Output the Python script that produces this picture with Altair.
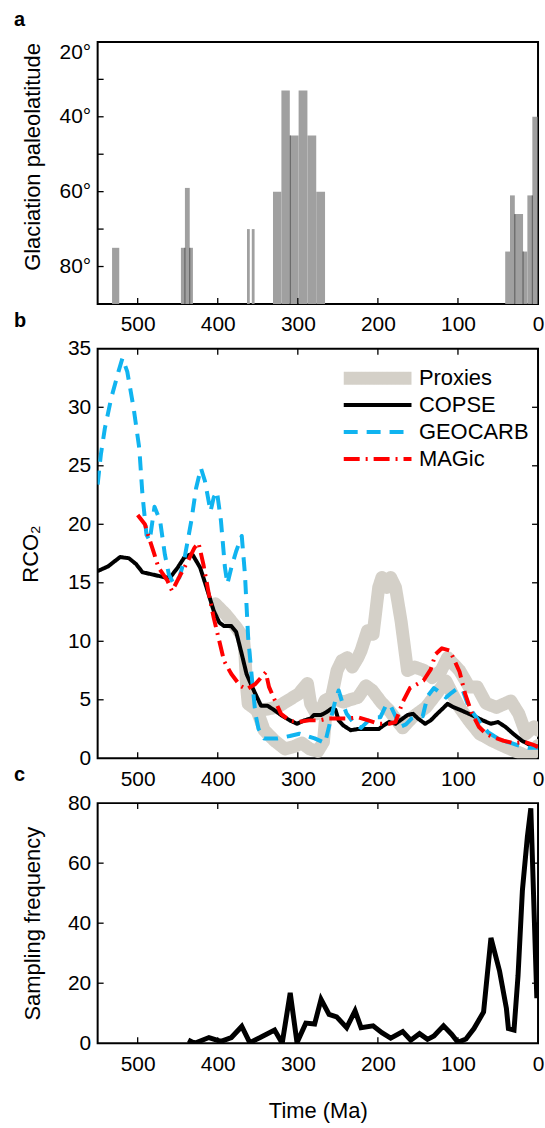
import altair as alt
import pandas as pd

FONT = "Liberation Sans"

# ---------------- Panel a: glaciation paleolatitude ----------------
glac_start = [532, 446, 441, 435, 363.5, 357.5, 331, 320.5, 310, 299, 288, 277, 41, 35, 29, 18.7, 13.3, 7.1]
glac_end = [523, 441, 435, 431, 360, 354, 320.5, 310, 299, 288, 277, 266, 35, 29, 18.7, 13.3, 7.1, 0.6]
glac_lat = [75, 75, 59, 75, 70, 70, 60, 33, 45, 33, 45, 60, 76, 61, 66, 76, 61, 40]
edge_time = [441, 435, 309.5, 29, 18.7, 7.1]
edge_lat = [75, 75, 45, 66, 76, 61]
lat_ticks = [20, 40, 60, 80]
lat_minor = [30, 40, 50, 60, 70, 80]

# ---------------- Panel b: RCO2 ----------------
copse_t = [550, 537, 522, 511, 502, 494, 481, 465, 459, 450, 442, 435, 431, 422, 414, 405, 398, 392, 383, 377,
           370, 364, 355, 346, 338, 329, 321, 310, 301, 292, 284, 280, 271, 264, 258, 253, 249, 243, 234, 225,
           212, 199, 193, 186, 178, 169, 163, 156, 150, 141, 134, 126, 119, 113, 106, 96, 83, 69, 59, 50,
           41, 31, 20, 9, 0]
copse_v = [16.0, 16.4, 17.2, 17.1, 16.6, 15.9, 15.7, 15.45, 15.5, 16.3, 17.15, 17.4, 17.35, 16.3, 14.6, 12.6, 11.6, 11.3, 11.3, 10.8,
           8.9, 7.2, 5.8, 4.5, 4.5, 4.1, 3.7, 3.24, 2.95, 3.24, 3.4, 3.7, 3.7, 3.95, 4.25, 4.15, 3.24, 2.8, 2.4, 2.5,
           2.5, 2.5, 2.8, 3.1, 2.95, 3.4, 3.7, 3.8, 3.4, 2.95, 3.24, 3.8, 4.25, 4.66, 4.38, 4.1, 3.7, 3.24, 2.95, 3.1,
           2.7, 2.1, 1.5, 1.1, 1.0]

geocarb_t = [550, 546, 541, 533, 524, 519, 513, 505, 498, 494, 489, 485, 479, 472, 466, 461, 455, 448, 442, 433,
             427, 421, 416, 409, 405, 401, 396, 391, 388, 383, 377, 370, 366, 362, 357, 353, 349, 342, 325, 310,
             298, 288, 279, 266, 260, 253, 249, 245, 239, 230, 221, 212, 204, 197, 190, 185, 178, 172, 165, 158,
             150, 144, 138, 130, 122, 115, 108, 100, 94, 86, 78, 70, 62, 55, 45, 33, 25, 12, 0]
geocarb_v = [23.4, 25.95, 28.2, 30.8, 33.05, 34.2, 33.05, 29.9, 26.5, 22.5, 19.1, 18.6, 21.5, 20.3, 17.4, 15.7, 14.9, 15.45, 16.9, 20.3,
             23.1, 24.8, 23.7, 21.1, 22.3, 22.8, 20.3, 16.3, 14.9, 16.3, 17.7, 19.0, 15.7, 10.3, 6.6, 3.8, 2.5, 1.7, 1.7, 1.9,
             2.1, 1.9, 1.7, 1.3, 3.0, 5.0, 5.8, 4.9, 3.8, 3.0, 2.6, 3.2, 3.5, 3.5, 4.5, 4.6, 3.6, 2.7, 2.9, 3.4,
             3.6, 3.6, 5.3, 6.0, 5.6, 5.2, 5.6, 6.0, 5.8, 4.3, 3.6, 2.8, 2.2, 1.9, 1.5, 1.3, 1.1, 0.9, 0.9]

magic_t = [500, 491, 487, 479, 474, 463, 457, 448, 437, 429, 424, 418, 411, 405, 398, 392, 383, 372, 364, 353,
           340, 336, 329, 321, 310, 299, 286, 273, 262, 251, 238, 225, 212, 199, 186, 178, 169, 160, 152, 143,
           134, 128, 120, 110, 106, 98, 91, 83, 74, 65, 56, 43, 31, 17, 4, 0]
magic_v = [20.8, 20.0, 19.1, 17.4, 16.3, 15.2, 14.3, 15.5, 16.9, 18.0, 18.4, 16.6, 14.0, 12.0, 10.0, 8.3, 7.2, 6.2, 5.9, 6.35,
           7.35, 6.1, 5.0, 3.8, 3.2, 3.1, 3.24, 3.24, 3.4, 3.4, 3.4, 3.5, 3.24, 2.95, 2.95, 3.1, 4.8, 6.0, 6.3, 6.65,
           7.6, 8.9, 9.4, 9.2, 8.6, 7.4, 5.5, 3.9, 2.7, 2.1, 1.8, 1.5, 1.3, 1.4, 1.1, 0.95]

proxy_up_t = [403, 390, 377, 368, 366, 364, 362, 351, 338, 325, 312, 299, 288, 284, 277, 271, 266, 258, 251, 245,
              238, 232, 225, 221, 213, 206, 199, 195, 189, 184, 178, 171, 163, 154, 142, 132, 121, 113, 98, 86,
              76, 65, 52, 34, 24, 15, 5, 0]
proxy_up_v = [13.2, 12.3, 11.2, 10.3, 8.9, 6.1, 4.66, 4.1, 4.2, 4.4, 4.95, 5.5, 6.4, 4.66, 3.8, 4.1, 4.95, 5.2, 7.5, 8.35,
              8.6, 7.8, 8.6, 9.2, 10.9, 10.6, 14.6, 15.45, 14.6, 15.45, 14.6, 11.7, 7.5, 7.8, 7.5, 6.9, 7.5, 8.6, 7.5, 6.1,
              6.1, 4.7, 4.35, 4.9, 3.8, 2.1, 2.7, 2.4]
proxy_lo_t = [351, 342, 329, 316, 305, 295, 285, 275, 268, 264, 258, 250, 243, 235, 225, 215, 207, 196, 186, 176,
              169, 157, 140, 127, 115, 107, 98, 86, 73, 57, 40, 24, 11, 3, 0]
proxy_lo_v = [4.1, 2.4, 1.5, 0.8, 1.0, 1.3, 0.8, 0.6, 1.4, 4.5, 5.3, 5.0, 4.8, 5.0, 5.2, 6.2, 5.8, 4.8, 4.1, 3.2,
              2.6, 3.5, 4.35, 5.5, 6.6, 5.5, 4.35, 3.2, 2.1, 1.5, 0.95, 0.5, 0.1, 0.7, 1.1]

series_names = ["Proxies", "COPSE", "GEOCARB", "MAGic"]
series_colors = ["#d4d0c8", "#000000", "#10b4f0", "#ff0000"]
series_widths = [13, 4, 4, 4]
series_dash = [[1, 0], [1, 0], [14, 9], [16, 6, 2, 6]]

# ---------------- Panel c: sampling frequency ----------------
samp_t = [437, 429, 411, 396, 383, 370, 360, 347, 329, 319.5, 309.5, 301, 290, 279, 271, 261, 251.5, 239, 228.5, 221,
          206, 195, 184, 169, 159, 148, 138, 130, 118, 108, 100, 90, 80, 68, 58.8, 48, 39.5, 37, 30, 25,
          19.5, 13.3, 9, 1.5]
samp_v = [1.1, 0, 1.9, 0.6, 1.9, 5.6, 0.2, 1.9, 4.4, 0, 16.8, 0.2, 6.7, 6.4, 14.6, 9.6, 8.8, 5.2, 10.8, 5.2,
          5.8, 3.5, 1.7, 3.9, 1.0, 3.2, 1.3, 2.4, 5.8, 3.0, 0.3, 1.4, 4.9, 10.4, 35.1, 24, 11.6, 4.9, 4.4, 22.4,
          51, 68.8, 78.3, 15]

time_ticks = [500, 400, 300, 200, 100, 0]
rco2_ticks = [0, 5, 10, 15, 20, 25, 30, 35]
samp_ticks = [0, 20, 40, 60, 80]

W = 442
HA, HB, HC = 263, 411, 241
TICK = 6

xscale = alt.Scale(domain=[0, 550], reverse=True, nice=False, zero=False)


def make_xaxis(title=None):
    kw = dict(values=time_ticks, format="d", ticks=False, domain=False, grid=False,
              labelFontSize=21, labelPadding=10, labelFlush=False, labelOverlap=False,
              labelFont=FONT, labelColor="black")
    if title:
        return alt.Axis(title=title, titleFontSize=22, titlePadding=27, titleFont=FONT,
                        titleFontWeight="normal", titleColor="black", **kw)
    return alt.Axis(title=None, **kw)


def make_yaxis(values, title, titleX, **extra):
    return alt.Axis(values=values, ticks=False, domain=False, grid=False, labelFontSize=21,
                    labelPadding=7, labelOverlap=False, labelFont=FONT, labelColor="black",
                    title=title, titleFontSize=22, titleX=titleX, titleFont=FONT,
                    titleFontWeight="normal", titleColor="black",
                    titleBaseline="alphabetic", titleAngle=270, **extra)


def tick_layers(xaxis, yscale, yaxis, yvals, H, sides):
    layers = []
    dx = pd.DataFrame({"tv": [v for v in time_ticks if v != 0]})
    dy = pd.DataFrame({"tv": yvals})
    rule = dict(color="black", strokeWidth=1.3)
    if "bottom" in sides:
        layers.append(alt.Chart(dx).mark_rule(**rule).encode(
            x=alt.X("tv:Q", scale=xscale, axis=xaxis), y=alt.value(H), y2=alt.value(H - TICK)))
    if "top" in sides:
        layers.append(alt.Chart(dx).mark_rule(**rule).encode(
            x=alt.X("tv:Q", scale=xscale, axis=xaxis), y=alt.value(0), y2=alt.value(TICK)))
    if "left" in sides:
        layers.append(alt.Chart(dy).mark_rule(**rule).encode(
            y=alt.Y("tv:Q", scale=yscale, axis=yaxis), x=alt.value(0), x2=alt.value(TICK)))
    if "right" in sides:
        layers.append(alt.Chart(dy).mark_rule(**rule).encode(
            y=alt.Y("tv:Q", scale=yscale, axis=yaxis), x=alt.value(W - TICK), x2=alt.value(W)))
    return layers


def panel_title(letter, offset):
    return alt.TitleParams(letter, anchor="start", frame="group", dx=-84, offset=offset,
                           fontSize=20, fontWeight="bold", font=FONT, color="black")


# ---- Panel a
df_glac = pd.DataFrame({"start": glac_start, "end": glac_end, "lat": glac_lat})
df_edge = pd.DataFrame({"t": edge_time, "lat": edge_lat})
yscale_a = alt.Scale(domain=[20, 90], reverse=True, nice=False, zero=False)
xaxis_a = make_xaxis()
yaxis_a = make_yaxis(lat_ticks, "Glaciation paleolatitude", -58, labelExpr="datum.value + '°'",
                     labelFlush=True, titleY=115)

bars = alt.Chart(df_glac).mark_rect(color="#a0a0a0").encode(
    x=alt.X("start:Q", scale=xscale, axis=xaxis_a),
    x2="end:Q",
    y=alt.Y("lat:Q", scale=yscale_a, axis=yaxis_a),
    y2=alt.datum(90),
)
edges = alt.Chart(df_edge).mark_rule(color="#555555", strokeWidth=1).encode(
    x=alt.X("t:Q", scale=xscale, axis=xaxis_a),
    y=alt.Y("lat:Q", scale=yscale_a, axis=yaxis_a),
    y2=alt.datum(90),
)
panel_a = alt.layer(bars, edges, *tick_layers(xaxis_a, yscale_a, yaxis_a, lat_minor, HA, ["bottom", "left"])).properties(
    width=W, height=HA, title=panel_title("a", 12))

# ---- Panel b
rows = []
for t, v in zip(proxy_up_t, proxy_up_v):
    rows.append({"t": t, "v": v, "series": "Proxies", "seg": "up"})
for t, v in zip(proxy_lo_t, proxy_lo_v):
    rows.append({"t": t, "v": v, "series": "Proxies", "seg": "lo"})
df_proxy = pd.DataFrame(rows)
rows = []
for name, ts, vs in [("COPSE", copse_t, copse_v), ("GEOCARB", geocarb_t, geocarb_v), ("MAGic", magic_t, magic_v)]:
    for t, v in zip(ts, vs):
        rows.append({"t": t, "v": v, "series": name, "seg": name})
df_models = pd.DataFrame(rows)

yscale_b = alt.Scale(domain=[0, 35], nice=False, zero=False)
xaxis_b = make_xaxis()
yaxis_b = make_yaxis(rco2_ticks, "RCO₂", -60)
leg = alt.Legend(orient="none", legendX=240.5, legendY=16 + HA + 45, title=None, symbolType="stroke",
                 symbolSize=68 * 68, clipHeight=27, rowPadding=0, labelFontSize=22, labelFont=FONT,
                 labelColor="black", labelOffset=1, padding=0, symbolOffset=0)
enc_common = dict(
    color=alt.Color("series:N", scale=alt.Scale(domain=series_names, range=series_colors), legend=leg),
    strokeDash=alt.StrokeDash("series:N", scale=alt.Scale(domain=series_names, range=series_dash), legend=leg),
    strokeWidth=alt.StrokeWidth("series:N", scale=alt.Scale(type="ordinal", domain=series_names, range=series_widths), legend=leg),
)
proxy_lines = alt.Chart(df_proxy).mark_line(clip=True, strokeCap="round", strokeJoin="round").encode(
    x=alt.X("t:Q", scale=xscale, axis=xaxis_b),
    y=alt.Y("v:Q", scale=yscale_b, axis=yaxis_b),
    detail="seg:N",
    **enc_common,
)
model_lines = alt.Chart(df_models).mark_line(clip=True, strokeJoin="round").encode(
    x=alt.X("t:Q", scale=xscale, axis=xaxis_b),
    y=alt.Y("v:Q", scale=yscale_b, axis=yaxis_b),
    detail="seg:N",
    **enc_common,
)
panel_b = alt.layer(proxy_lines, model_lines,
                    *tick_layers(xaxis_b, yscale_b, yaxis_b, [5, 10, 15, 20, 25, 30], HB,
                                 ["bottom", "top", "left", "right"])
                    ).properties(width=W, height=HB, title=panel_title("b", 7))

# ---- Panel c
df_samp = pd.DataFrame({"t": samp_t, "v": samp_v})
yscale_c = alt.Scale(domain=[0, 80], nice=False, zero=False)
xaxis_c = make_xaxis("Time (Ma)")
yaxis_c = make_yaxis(samp_ticks, "Sampling frequency", -58)
samp_line = alt.Chart(df_samp).mark_line(color="black", strokeWidth=5, clip=True).encode(
    x=alt.X("t:Q", scale=xscale, axis=xaxis_c),
    y=alt.Y("v:Q", scale=yscale_c, axis=yaxis_c),
)
panel_c = alt.layer(samp_line, *tick_layers(xaxis_c, yscale_c, yaxis_c, [20, 40, 60], HC,
                                            ["bottom", "top", "left", "right"])
                    ).properties(width=W, height=HC, title=panel_title("c", 7))

chart = alt.VConcatChart(vconcat=[panel_a, panel_b, panel_c], spacing=45, bounds="flush").properties(
    padding={"left": 13, "top": 7, "right": 0, "bottom": 4}, background="white"
).configure_view(stroke="black", strokeWidth=2).configure_axis(
    labelFont=FONT, titleFont=FONT, labelColor="black", titleColor="black", titleFontWeight="normal"
)

chart.save("out.html", embed_options={"renderer": "svg", "actions": False})
